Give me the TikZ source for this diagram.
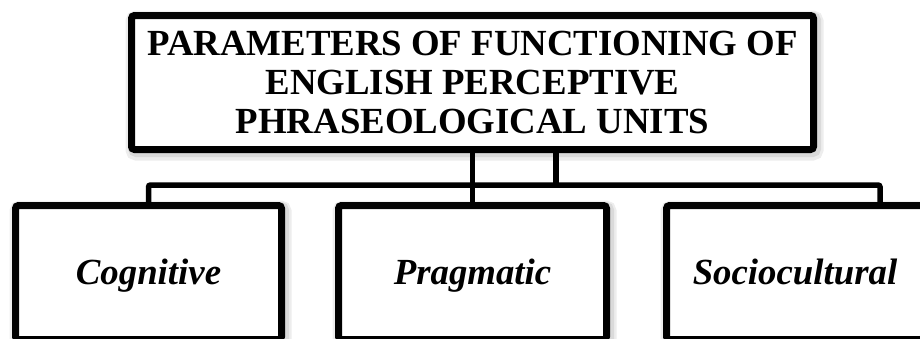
\documentclass[tikz,border=0pt]{standalone}
\usepackage{fontspec}
\setmainfont{Liberation Serif}
\tikzset{
  box/.style={draw=black, fill=white, line width=7pt, rounded corners=3pt,
    inner sep=0pt, outer sep=0pt,
    preaction={draw=black, draw opacity=0.07, line width=16pt,
      transform canvas={shift={(2pt,-3pt)}}},
    preaction={draw=black, draw opacity=0.08, line width=11pt,
      transform canvas={shift={(2pt,-2pt)}}}},
  titlebox/.style={box, minimum width=682pt, minimum height=134pt, align=center,
    font=\bfseries\fontsize{36.8pt}{39pt}\selectfont},
  leafbox/.style={box, minimum height=134pt,
    font=\bfseries\itshape\fontsize{36.8pt}{39pt}\selectfont,
    text height=24.4pt, text depth=0pt},
  conn/.style={draw=black, line width=5.5pt, rounded corners=2pt}
}
\begin{document}
\begin{tikzpicture}[x=1pt, y=-1pt]
  \useasboundingbox (0,0) rectangle (920,338);
  \clip (0,0) rectangle (920,338);
  \fill[white] (0,0) rectangle (920,338);
  \node[titlebox] (top) at (472.5,82.5)
    {PARAMETERS OF FUNCTIONING OF\\ENGLISH PERCEPTIVE\\PHRASEOLOGICAL UNITS};
  \node[leafbox, minimum width=266pt] (cog) at (148.5,272.5) {Cognitive};
  \node[leafbox, minimum width=268pt] (prag) at (472.5,272.5) {Pragmatic};
  \node[leafbox, minimum width=257pt] (soc) at (795,272.5) {Sociocultural};
  \coordinate (busR) at (880,185);
  \coordinate (v2) at ([xshift=83.5pt]top.south);
  \draw[conn] (cog.north) |- (busR) -- (busR |- soc.north);
  \draw[conn] (top.south) -- (prag.north);
  \draw[conn] (v2) -- (v2 |- busR);
\end{tikzpicture}
\end{document}
